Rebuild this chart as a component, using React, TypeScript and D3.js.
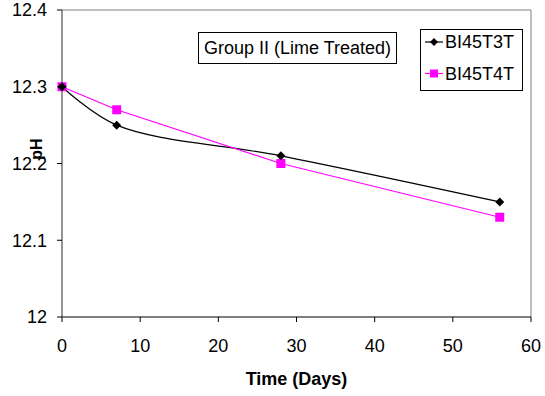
import React from "react";
import * as d3 from "d3";

const days = [0, 7, 28, 56];
const seriesNames = ["BI45T3T", "BI45T4T"];
const bi45t3t = [12.3, 12.25, 12.21, 12.15];
const bi45t4t = [12.3, 12.27, 12.2, 12.13];
const xTicks = [0, 10, 20, 30, 40, 50, 60];
const yTicks = [12, 12.1, 12.2, 12.3, 12.4];
const annotation = "Group II (Lime Treated)";

const W = 545;
const H = 396;
const L = 62, R = 531, T = 10, B = 317;
const FONT = "Arial, 'Liberation Sans', sans-serif";

export default function App() {
  const x = d3.scaleLinear().domain([0, 60]).range([L, R]);
  const y = d3.scaleLinear().domain([12, 12.4]).range([B, T]);

  const pts1 = days.map((d, i) => [d, bi45t3t[i]] as [number, number]);
  const pts2 = days.map((d, i) => [d, bi45t4t[i]] as [number, number]);

  const smooth = d3
    .line<[number, number]>()
    .x((d) => x(d[0]))
    .y((d) => y(d[1]))
    .curve(d3.curveCatmullRom.alpha(0.5));
  const straight = d3
    .line<[number, number]>()
    .x((d) => x(d[0]))
    .y((d) => y(d[1]));

  const diamond = (cx: number, cy: number, s = 4.5) =>
    `M${cx},${cy - s}L${cx + s},${cy}L${cx},${cy + s}L${cx - s},${cy}Z`;

  const legendX = 420, legendY = 29, legendW = 102, legendH = 61;

  return (
    <svg
      width={W}
      height={H}
      style={{ position: "absolute", left: 0, top: 0, background: "#fff" }}
      fontFamily={FONT}
    >
      <rect x={0} y={0} width={W} height={H} fill="#fff" />
      {/* plot border top/right */}
      <line x1={L} x2={R} y1={T} y2={T} stroke="#808080" strokeWidth={1} />
      <line x1={R} x2={R} y1={T} y2={B} stroke="#808080" strokeWidth={1} />
      {/* y axis */}
      <line x1={L} x2={L} y1={T} y2={B} stroke="#707070" strokeWidth={1.5} />
      {yTicks.map((t) => (
        <g key={"y" + t}>
          <line x1={L - 5} x2={L} y1={y(t)} y2={y(t)} stroke="#000" />
          <text
            x={47}
            y={y(t)}
            dy="0.36em"
            textAnchor="end"
            fontSize={18}
            fill="#000"
          >
            {d3.format("")(t)}
          </text>
        </g>
      ))}
      {/* x axis */}
      <line x1={L} x2={R} y1={B} y2={B} stroke="#000" strokeWidth={1.2} />
      {xTicks.map((t) => (
        <g key={"x" + t}>
          <line x1={x(t)} x2={x(t)} y1={B} y2={B + 5} stroke="#000" />
          <text x={x(t)} y={352} textAnchor="middle" fontSize={18} fill="#000">
            {t}
          </text>
        </g>
      ))}
      <text
        x={(L + R) / 2}
        y={385}
        textAnchor="middle"
        fontSize={18}
        fontWeight="bold"
        fill="#000"
      >
        Time (Days)
      </text>
      <text
        transform={`translate(42,149) rotate(-90)`}
        textAnchor="middle"
        fontSize={16}
        fontWeight="bold"
        fill="#000"
      >
        pH
      </text>

      {/* series */}
      <path d={smooth(pts1) || ""} fill="none" stroke="#000" strokeWidth={1.2} />
      <path d={straight(pts2) || ""} fill="none" stroke="#FF00FF" strokeWidth={1.2} />
      {pts2.map((p, i) => (
        <rect
          key={"s" + i}
          x={x(p[0]) - 4.5}
          y={y(p[1]) - 4.5}
          width={9}
          height={9}
          fill="#FF00FF"
        />
      ))}
      {pts1.map((p, i) => (
        <path key={"d" + i} d={diamond(x(p[0]), y(p[1]))} fill="#000" />
      ))}

      {/* annotation box */}
      <rect x={198.5} y={32.5} width={198} height={31} fill="#fff" stroke="#000" />
      <text x={297.5} y={48} dy="0.36em" textAnchor="middle" fontSize={18} fill="#000">
        {annotation}
      </text>

      {/* legend */}
      <rect
        x={legendX + 0.5}
        y={legendY + 0.5}
        width={legendW}
        height={legendH}
        fill="#fff"
        stroke="#000"
      />
      {seriesNames.map((name, i) => {
        const cy = 42 + i * 31.5;
        const color = i === 0 ? "#000" : "#FF00FF";
        return (
          <g key={name}>
            <line x1={425} x2={443} y1={cy} y2={cy} stroke={color} strokeWidth={1.2} />
            {i === 0 ? (
              <path d={diamond(434, cy, 4)} fill="#000" />
            ) : (
              <rect x={430} y={cy - 4} width={8} height={8} fill="#FF00FF" />
            )}
            <text x={445} y={cy} dy="0.36em" fontSize={18} fill="#000">
              {name}
            </text>
          </g>
        );
      })}
    </svg>
  );
}
